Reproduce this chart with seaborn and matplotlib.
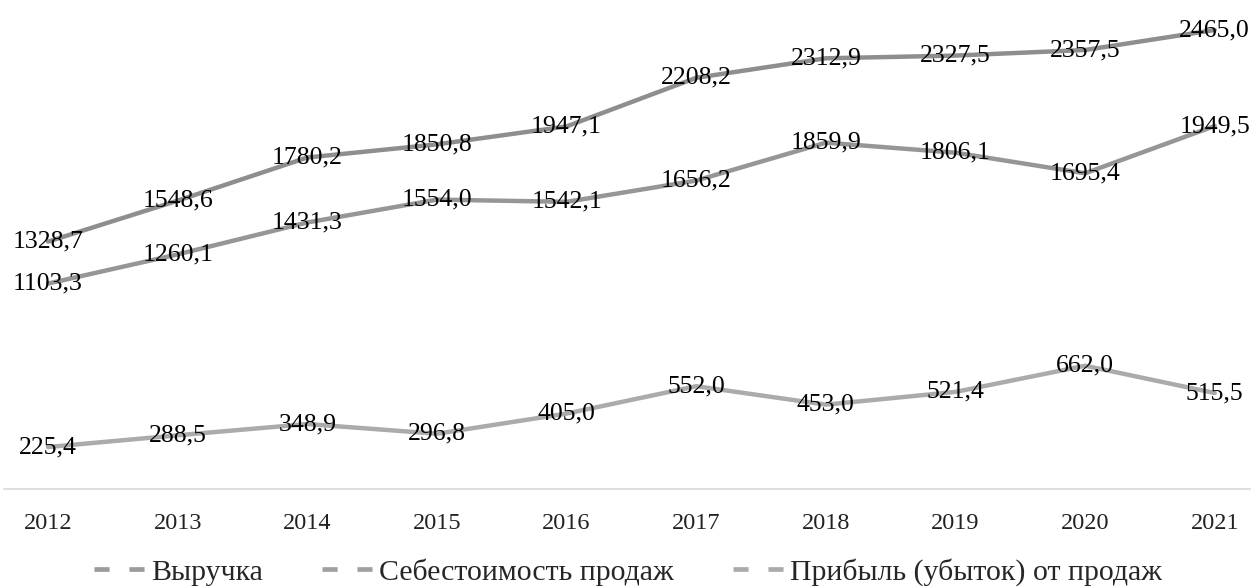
import matplotlib.pyplot as plt
import seaborn as sns
import pandas as pd
from matplotlib.lines import Line2D

sns.set_theme(style="white")
plt.rcParams['font.family'] = ['Liberation Serif', 'DejaVu Serif']

# Data (thousand rub.)
years = [2012, 2013, 2014, 2015, 2016, 2017, 2018, 2019, 2020, 2021]
revenue = [1328.7, 1548.6, 1780.2, 1850.8, 1947.1, 2208.2, 2312.9, 2327.5, 2357.5, 2465.0]
cost = [1103.3, 1260.1, 1431.3, 1554.0, 1542.1, 1656.2, 1859.9, 1806.1, 1695.4, 1949.5]
profit = [225.4, 288.5, 348.9, 296.8, 405.0, 552.0, 453.0, 521.4, 662.0, 515.5]
series_names = ['Выручка', 'Себестоимость продаж', 'Прибыль (убыток) от продаж']
series_colors = ['#8e8e8e', '#969696', '#ababab']

df = pd.DataFrame({
    'year': years * 3,
    'value': revenue + cost + profit,
    'series': [n for n in series_names for _ in years],
})

fig = plt.figure(figsize=(12.51, 5.88), dpi=100)
ax = fig.add_axes([4 / 1251, 99 / 588, 1247 / 1251, 489 / 588])

sns.lineplot(data=df, x='year', y='value', hue='series', palette=series_colors,
             linewidth=3.2, ax=ax, legend=False)

# value labels centered on the points
for vals in (revenue, cost, profit):
    for x, v in zip(years, vals):
        ax.text(x, v, f'{v:.1f}'.replace('.', ','), ha='center', va='center',
                fontsize=18.5, color='black')

ax.set_xlim(2011.66, 2021.28)
ax.set_ylim(0, 2626)
ax.set_xticks(years)
ax.set_xticklabels([str(y) for y in years], fontsize=17.5, color='#222222')
ax.tick_params(axis='x', length=0, pad=17)
ax.set_yticks([])
ax.set_xlabel('')
ax.set_ylabel('')
for side in ['left', 'right', 'top']:
    ax.spines[side].set_visible(False)
ax.spines['bottom'].set_color('#d9d9d9')
ax.spines['bottom'].set_linewidth(1.2)

# dashed legend keys, as in the original
handles = [Line2D([0], [0], color=c, linewidth=3.4, linestyle=(0, (3.2, 4.2)))
           for c in ['#9c9c9c', '#a0a0a0', '#ababab']]
fig.legend(handles, series_names, loc='center', bbox_to_anchor=(0.502, 0.027),
           ncol=3, frameon=False, fontsize=21.5, handlelength=1.84,
           handletextpad=0.05, columnspacing=2.0)

fig.savefig('out.png', dpi=100)
